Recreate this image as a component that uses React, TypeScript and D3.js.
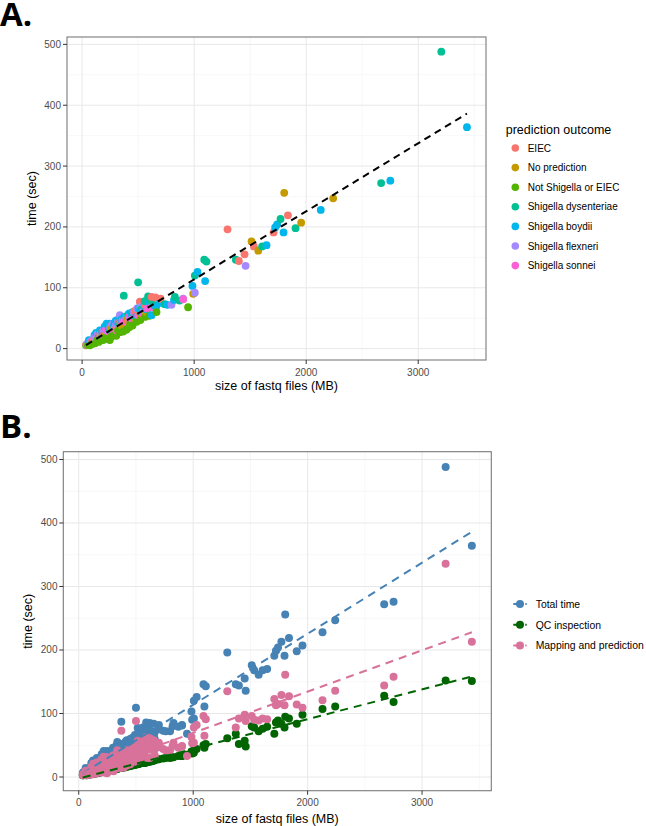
import React from 'react';
import * as d3 from 'd3';

// ---------- categories / labels ----------
const outcomeLabels = [
  'EIEC',
  'No prediction',
  'Not Shigella or EIEC',
  'Shigella dysenteriae',
  'Shigella boydii',
  'Shigella flexneri',
  'Shigella sonnei',
];
const outcomeColors = ['#F8766D', '#C49A00', '#53B400', '#00C094', '#00B6EB', '#A58AFF', '#FB61D7'];

const seriesLabels = ['Total time', 'QC inspection', 'Mapping and prediction'];
const seriesColors = ['#4682B4', '#006400', '#D8729A'];

const xTicks = [0, 1000, 2000, 3000];
const xMinor = [500, 1500, 2500, 3500];
const yTicks = [0, 100, 200, 300, 400, 500];
const yMinor = [50, 150, 250, 350, 450];

// ---------- data (grouped by prediction outcome) ----------
const outcomeIdx = [
  // EIEC
  0, 0, 0, 0, 0, 0, 0, 0, 0, 0, 0, 0, 0, 0, 0, 0,
  // No prediction
  1, 1, 1, 1, 1, 1, 1, 1, 1, 1,
  // Not Shigella or EIEC
  2, 2, 2, 2, 2, 2, 2, 2, 2, 2, 2, 2, 2, 2, 2, 2, 2, 2, 2, 2, 2, 2, 2, 2, 2, 2, 2, 2, 2, 2, 2, 2,
  // Shigella dysenteriae
  3, 3, 3, 3, 3, 3, 3, 3, 3, 3, 3, 3, 3, 3, 3, 3, 3, 3, 3, 3, 3,
  // Shigella boydii
  4, 4, 4, 4, 4, 4, 4, 4, 4, 4, 4, 4, 4, 4, 4, 4, 4, 4, 4, 4, 4, 4, 4, 4, 4, 4, 4, 4, 4, 4,
  // Shigella flexneri
  5, 5, 5, 5, 5, 5, 5, 5, 5, 5, 5, 5, 5, 5, 5, 5,
  // Shigella sonnei
  6, 6, 6, 6, 6, 6, 6, 6, 6, 6, 6, 6, 6, 6,
  // more small samples
  4, 4, 4, 4, 4, 4, 4, 4, 4, 4,
  5, 5, 5, 5, 5, 5, 5,
  6, 6, 6, 6, 6, 6, 6, 6,
  3, 3, 3, 3, 3,
  0, 0, 0,
  1, 1, 1,
];

const sizeMB = [
  38, 105, 200, 290, 410, 515, 560, 620, 655, 700, 1298, 1399, 1450, 1533, 1709, 1837,
  200, 355, 470, 570, 991, 1512, 1572, 1804, 1955, 2241,
  35, 52, 68, 80, 90, 98, 115, 130, 140, 148, 165, 180, 188, 205, 225, 247, 262, 285, 305, 320, 337, 366, 395, 420, 430, 450, 486, 520, 560, 600, 664, 946,
  150, 240, 330, 372, 450, 500, 525, 589, 640, 738, 828, 870, 1006, 1090, 1110, 1372, 1607, 1771, 1905, 2669, 3206,
  60, 110, 158, 188, 218, 247, 260, 280, 310, 350, 400, 440, 480, 530, 580, 620, 660, 694, 760, 820, 985, 1030, 1098, 1646, 1723, 1741, 1798, 2130, 2751, 3435,
  45, 75, 120, 170, 210, 250, 300, 337, 380, 430, 491, 550, 798, 902, 1006, 1459,
  40, 85, 135, 190, 235, 275, 307, 345, 390, 445, 500, 545, 620, 902,
  125, 200, 235, 300, 330, 375, 420, 505, 555, 600,
  140, 190, 270, 320, 400, 460, 520,
  110, 165, 215, 255, 360, 420, 470, 580,
  180, 290, 410, 560, 610,
  160, 340, 470,
  260, 400, 520,
];

const totalSec = [
  7, 14, 26, 35, 44, 77, 72, 85, 84, 82, 196, 144, 155, 168, 191, 219,
  23, 37, 50, 60, 90, 176, 161, 256, 207, 247,
  5.4, 6, 5.5, 8, 10, 8, 9, 12, 15, 11, 14, 20, 14, 17, 16, 14, 20, 22, 21, 30, 27, 28, 31, 35, 42, 38, 44, 47, 52, 54, 60, 68,
  20, 32, 42, 87, 60, 109, 64, 86, 72, 73, 85, 79, 120, 146, 143, 146, 168, 213, 198, 272, 488,
  14, 22, 30, 28, 41, 41, 30, 36, 44, 48, 50, 56, 52, 60, 64, 55, 68, 75, 72, 80, 103, 126, 111, 170, 199, 204, 191, 228, 276, 364,
  8, 12, 18, 24, 30, 34, 40, 55, 46, 51, 66, 62, 72, 82, 92, 136,
  6, 11, 16, 22, 28, 32, 30, 40, 44, 49, 55, 58, 68, 81,
  26, 36, 38, 46, 50, 52, 58, 66, 70, 76,
  24, 30, 40, 44, 52, 60, 68,
  18, 25, 32, 36, 46, 52, 58, 66,
  28, 42, 56, 78, 80,
  22, 45, 62,
  33, 47, 58,
];

const qcSec = [
  2.8, 5, 8, 12, 16, 20, 22, 24, 26, 28, 61, 52, 57, 78, 68, 92,
  8, 14, 19, 23, 37, 80, 72, 95, 98, 111,
  2.7, 3, 2.8, 4, 4, 4, 5, 5, 6, 6, 7, 8, 7, 8, 9, 8, 11, 11, 12, 13, 13, 14, 16, 17, 17, 18, 20, 21, 22, 24, 26, 35,
  6, 10, 13, 14, 18, 21, 21, 23, 25, 29, 31, 33, 42, 50, 52, 68, 76, 84, 84, 128, 152,
  4, 6, 7, 8, 9, 10, 10, 11, 12, 14, 15, 17, 19, 21, 22, 25, 26, 28, 30, 31, 40, 44, 46, 79, 86, 89, 78, 107, 118, 151,
  3, 4, 5, 7, 9, 10, 12, 13, 15, 17, 19, 22, 30, 33, 38, 48,
  3, 4, 6, 8, 9, 11, 12, 14, 16, 18, 20, 22, 25, 33,
  5, 8, 9, 12, 13, 15, 16, 20, 22, 24,
  6, 8, 11, 13, 16, 18, 21,
  5, 7, 9, 10, 14, 17, 19, 23,
  7, 11, 16, 22, 24,
  6, 13, 18,
  10, 16, 21,
];

const mappingSec = [
  4.2, 9, 18, 23, 28, 57, 50, 61, 58, 54, 135, 92, 98, 90, 123, 127,
  15, 23, 31, 37, 53, 96, 89, 161, 109, 136,
  2.7, 3, 2.7, 4, 6, 4, 4, 7, 9, 5, 7, 12, 7, 9, 7, 6, 9, 11, 9, 17, 14, 14, 15, 18, 25, 20, 24, 26, 30, 30, 34, 33,
  14, 22, 29, 73, 42, 88, 43, 63, 47, 44, 54, 46, 78, 96, 91, 78, 92, 129, 114, 144, 336,
  10, 16, 23, 20, 32, 31, 20, 25, 32, 34, 35, 39, 33, 39, 42, 30, 42, 47, 42, 49, 63, 82, 65, 91, 113, 115, 113, 121, 158, 213,
  5, 8, 13, 17, 21, 24, 28, 42, 31, 34, 47, 40, 42, 49, 54, 88,
  3, 7, 10, 14, 19, 21, 18, 26, 28, 31, 35, 36, 43, 48,
  21, 28, 29, 34, 37, 37, 42, 46, 48, 52,
  18, 22, 29, 31, 36, 42, 47,
  13, 18, 23, 26, 32, 35, 39, 43,
  21, 31, 40, 56, 56,
  16, 32, 44,
  23, 31, 37,
];

// ---------- helpers ----------
const FONT = '"Liberation Sans", Arial, Helvetica, sans-serif';

function expand(ext: [number, number]): [number, number] {
  const r = ext[1] - ext[0];
  return [ext[0] - 0.05 * r, ext[1] + 0.05 * r];
}

function linFit(xs: number[], ys: number[]) {
  const mx = d3.mean(xs) as number;
  const my = d3.mean(ys) as number;
  let sxy = 0;
  let sxx = 0;
  xs.forEach((x, i) => {
    sxy += (x - mx) * (ys[i] - my);
    sxx += (x - mx) * (x - mx);
  });
  const b = sxy / sxx;
  return { a: my - b * mx, b };
}

type Box = { left: number; top: number; right: number; bottom: number };

const order = d3.range(sizeMB.length).sort((i, j) => sizeMB[i] - sizeMB[j]);
const xDomain = expand(d3.extent(sizeMB) as [number, number]);
const xMin = d3.min(sizeMB) as number;
const xMax = d3.max(sizeMB) as number;

function Frame({
  box,
  x,
  y,
  yTickEnd,
  yTitleX,
  xTickBaseline,
  xTitleBaseline,
  children,
}: {
  box: Box;
  x: d3.ScaleLinear<number, number>;
  y: d3.ScaleLinear<number, number>;
  yTickEnd: number;
  yTitleX: number;
  xTickBaseline: number;
  xTitleBaseline: number;
  children?: React.ReactNode;
}) {
  const cx = (box.left + box.right) / 2;
  const cy = (box.top + box.bottom) / 2;
  return (
    <g>
      <rect x={box.left} y={box.top} width={box.right - box.left} height={box.bottom - box.top} fill="#fff" />
      {xMinor.map((t) => (
        <line key={'xm' + t} x1={x(t)} x2={x(t)} y1={box.top} y2={box.bottom} stroke="#F4F4F4" strokeWidth={0.7} />
      ))}
      {yMinor.map((t) => (
        <line key={'ym' + t} x1={box.left} x2={box.right} y1={y(t)} y2={y(t)} stroke="#F4F4F4" strokeWidth={0.7} />
      ))}
      {xTicks.map((t) => (
        <line key={'xM' + t} x1={x(t)} x2={x(t)} y1={box.top} y2={box.bottom} stroke="#E8E8E8" strokeWidth={1} />
      ))}
      {yTicks.map((t) => (
        <line key={'yM' + t} x1={box.left} x2={box.right} y1={y(t)} y2={y(t)} stroke="#E8E8E8" strokeWidth={1} />
      ))}
      <g>{children}</g>
      <rect
        x={box.left}
        y={box.top}
        width={box.right - box.left}
        height={box.bottom - box.top}
        fill="none"
        stroke="#7A7A7A"
        strokeWidth={1.1}
      />
      {yTicks.map((t) => (
        <g key={'yt' + t}>
          <line x1={box.left - 4} x2={box.left} y1={y(t)} y2={y(t)} stroke="#333" strokeWidth={1} />
          <text x={yTickEnd} y={y(t) + 3.5} textAnchor="end" fontSize={10} fill="#4D4D4D" fontFamily={FONT}>
            {t}
          </text>
        </g>
      ))}
      {xTicks.map((t) => (
        <g key={'xt' + t}>
          <line x1={x(t)} x2={x(t)} y1={box.bottom} y2={box.bottom + 4} stroke="#333" strokeWidth={1} />
          <text x={x(t)} y={xTickBaseline} textAnchor="middle" fontSize={10} fill="#4D4D4D" fontFamily={FONT}>
            {t}
          </text>
        </g>
      ))}
      <text x={cx} y={xTitleBaseline} textAnchor="middle" fontSize={12.5} fill="#000" fontFamily={FONT}>
        size of fastq files (MB)
      </text>
      <text
        transform={`translate(${yTitleX},${cy}) rotate(-90)`}
        textAnchor="middle"
        fontSize={12.5}
        fill="#000"
        fontFamily={FONT}
      >
        time (sec)
      </text>
    </g>
  );
}

function PanelA() {
  const box: Box = { left: 67, top: 37, right: 486, bottom: 360 };
  const x = d3.scaleLinear().domain(xDomain).range([box.left, box.right]);
  const y = d3
    .scaleLinear()
    .domain(expand(d3.extent(totalSec) as [number, number]))
    .range([box.bottom, box.top]);
  const fit = linFit(sizeMB, totalSec);
  const line = d3.line<number>().x((d) => x(d)).y((d) => y(fit.a + fit.b * d));
  return (
    <g>
      <Frame box={box} x={x} y={y} yTickEnd={61} yTitleX={35.5} xTickBaseline={375.5} xTitleBaseline={389.5}>
        {order.map((i) => (
          <circle key={i} cx={x(sizeMB[i])} cy={y(totalSec[i])} r={3.9} fill={outcomeColors[outcomeIdx[i]]} />
        ))}
        <path d={line([xMin, xMax]) || ''} fill="none" stroke="#000" strokeWidth={2} strokeDasharray="7 5" />
      </Frame>
      <text x={505.7} y={133.5} fontSize={12.5} fill="#000" fontFamily={FONT}>
        prediction outcome
      </text>
      {outcomeLabels.map((lab, k) => {
        const cy = 148 + k * 19.6;
        return (
          <g key={lab}>
            <circle cx={515.3} cy={cy} r={3.8} fill={outcomeColors[k]} />
            <text x={527.7} y={cy + 3.5} fontSize={10} fill="#000" fontFamily={FONT}>
              {lab}
            </text>
          </g>
        );
      })}
    </g>
  );
}

function PanelB() {
  const box: Box = { left: 63.3, top: 451.7, right: 491.3, bottom: 790.7 };
  const series = [totalSec, qcSec, mappingSec];
  const allY = ([] as number[]).concat(totalSec, qcSec, mappingSec);
  const x = d3.scaleLinear().domain(xDomain).range([box.left, box.right]);
  const y = d3
    .scaleLinear()
    .domain(expand(d3.extent(allY) as [number, number]))
    .range([box.bottom, box.top]);
  return (
    <g>
      <Frame box={box} x={x} y={y} yTickEnd={57.5} yTitleX={32} xTickBaseline={805.5} xTitleBaseline={822.5}>
        {series.map((vals, s) => (
          <g key={'pts' + s}>
            {order.map((i) => (
              <circle key={i} cx={x(sizeMB[i])} cy={y(vals[i])} r={4} fill={seriesColors[s]} />
            ))}
          </g>
        ))}
        {series.map((vals, s) => {
          const fit = linFit(sizeMB, vals);
          const line = d3.line<number>().x((d) => x(d)).y((d) => y(fit.a + fit.b * d));
          return (
            <path
              key={'ln' + s}
              d={line([xMin, xMax]) || ''}
              fill="none"
              stroke={seriesColors[s]}
              strokeWidth={2}
              strokeDasharray="8 6"
            />
          );
        })}
      </Frame>
      {seriesLabels.map((lab, k) => {
        const cy = 604 + k * 20.8;
        return (
          <g key={lab}>
            <line x1={513.3} x2={526.7} y1={cy} y2={cy} stroke={seriesColors[k]} strokeWidth={2} strokeDasharray="4 2" />
            <circle cx={520} cy={cy} r={4} fill={seriesColors[k]} />
            <text x={535.7} y={cy + 3.7} fontSize={10.4} fill="#000" fontFamily={FONT}>
              {lab}
            </text>
          </g>
        );
      })}
    </g>
  );
}

export default function App() {
  return (
    <svg
      width={646}
      height={826}
      viewBox="0 0 646 826"
      style={{ position: 'absolute', left: 0, top: 0, display: 'block', background: '#fff' }}
    >
      <rect x={0} y={0} width={646} height={826} fill="#fff" />
      <text x={0} y={26} fontSize={33} fontWeight={700} fill="#000" fontFamily='"Open Sans", "DejaVu Sans", sans-serif'>
        A.
      </text>
      <text x={0} y={437.5} fontSize={33} fontWeight={700} fill="#000" fontFamily='"Open Sans", "DejaVu Sans", sans-serif'>
        B.
      </text>
      <PanelA />
      <PanelB />
    </svg>
  );
}
